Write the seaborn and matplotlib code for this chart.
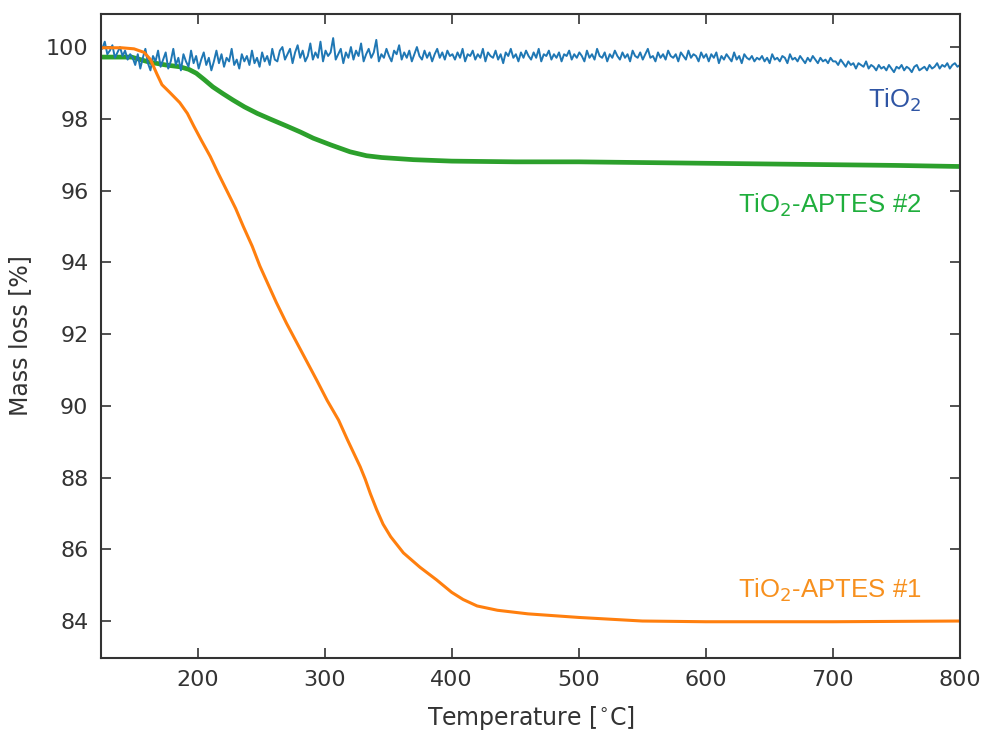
import numpy as np
import pandas as pd
import matplotlib
matplotlib.use("Agg")
import matplotlib.pyplot as plt
import seaborn as sns

# ---------------- data ----------------
tio2_mass = [
    # 125-149
    99.95, 100.15, 99.8, 99.9, 100.05, 99.7, 99.85, 100.0, 99.75, 99.9, 99.65, 99.8, 99.7,
    # 151-261
    99.5, 99.8, 99.4, 99.7, 99.95, 99.55, 99.35, 99.75, 99.6, 99.9,
    99.45, 99.65, 99.85, 99.4, 99.6, 99.95, 99.5, 99.7, 99.35, 99.8,
    99.6, 99.45, 99.9, 99.55, 99.75, 99.4, 99.65, 99.85, 99.5, 99.7,
    99.35, 99.6, 99.9, 99.55, 99.8, 99.45, 99.7, 99.6, 99.95, 99.5,
    99.65, 99.4, 99.8, 99.6, 99.75, 99.5, 99.9, 99.55, 99.7, 99.45,
    99.85, 99.6, 99.75, 99.5, 99.95, 99.65,
    # 263-401
    99.6, 99.9, 100.0, 99.65, 99.8, 99.95, 99.55, 99.85, 100.05, 99.7,
    99.9, 99.6, 99.75, 100.1, 99.65, 99.85, 99.7, 100.15, 99.6, 99.9,
    99.75, 99.85, 100.25, 99.65, 99.8, 99.95, 99.55, 99.85, 99.7, 100.0,
    99.65, 99.9, 99.75, 100.1, 99.6, 99.8, 99.95, 99.7, 99.85, 100.2,
    99.6, 99.8, 99.7, 99.95, 99.75, 99.6, 99.9, 99.8, 100.05, 99.65,
    99.85, 99.7, 99.9, 99.6, 99.8, 100.0, 99.75, 99.65, 99.9, 99.7,
    99.85, 99.6, 99.8, 99.95, 99.7, 99.85, 99.65, 99.9, 99.75, 99.8,
    # 403-601
    99.65, 99.85, 99.7, 99.95, 99.6, 99.8, 99.75, 99.9, 99.65, 99.8,
    99.7, 99.95, 99.6, 99.85, 99.75, 99.7, 99.9, 99.65, 99.8, 99.55,
    99.85, 99.75, 99.95, 99.7, 99.8, 99.6, 99.85, 99.7, 99.9, 99.75,
    99.65, 99.85, 99.7, 99.95, 99.6, 99.8, 99.75, 99.9, 99.65, 99.8,
    99.7, 99.85, 99.6, 99.8, 99.75, 99.9, 99.65, 99.8, 99.7, 99.85,
    99.75, 99.6, 99.9, 99.7, 99.8, 99.65, 99.95, 99.75, 99.7, 99.85,
    99.6, 99.8, 99.7, 99.9, 99.75, 99.65, 99.85, 99.7, 99.8, 99.6,
    99.9, 99.75, 99.7, 99.85, 99.65, 99.8, 99.95, 99.7, 99.75, 99.6,
    99.85, 99.7, 99.8, 99.65, 99.9, 99.75, 99.7, 99.8, 99.6, 99.85,
    99.75, 99.65, 99.9, 99.7, 99.8, 99.75, 99.6, 99.85, 99.7, 99.8,
    # 603-701
    99.6, 99.8, 99.7, 99.85, 99.55, 99.75, 99.65, 99.8, 99.7, 99.6,
    99.85, 99.65, 99.75, 99.55, 99.8, 99.7, 99.65, 99.75, 99.6, 99.7,
    99.65, 99.75, 99.6, 99.7, 99.55, 99.8, 99.65, 99.7, 99.6, 99.75,
    99.7, 99.55, 99.8, 99.65, 99.7, 99.6, 99.75, 99.65, 99.55, 99.7,
    99.6, 99.75, 99.65, 99.55, 99.7, 99.6, 99.65, 99.55, 99.7, 99.6,
    # 703-801
    99.6, 99.5, 99.65, 99.55, 99.45, 99.6, 99.5, 99.55, 99.4, 99.55,
    99.5, 99.45, 99.6, 99.4, 99.5, 99.45, 99.35, 99.5, 99.4, 99.45,
    99.35, 99.5, 99.4, 99.3, 99.45, 99.4, 99.5, 99.35, 99.45, 99.4,
    99.3, 99.45, 99.5, 99.35, 99.4, 99.45, 99.35, 99.5, 99.4, 99.45,
    99.55, 99.4, 99.5, 99.45, 99.55, 99.4, 99.5, 99.55, 99.45, 99.5,
]
tio2_temp = list(np.linspace(125, 800, len(tio2_mass)))

aptes1_temp = [125, 140, 150, 158, 163, 168, 172, 178, 186, 192, 197, 203, 210,
               216, 223, 230, 236, 243, 249, 256, 262, 270, 276, 285, 294, 302,
               311, 318, 324, 328, 332, 336, 341, 346, 352, 362, 375, 388, 400,
               409, 420, 436, 460, 500, 550, 600, 700, 800]
aptes1_mass = [99.98, 99.98, 99.95, 99.85, 99.65, 99.25, 98.95, 98.74, 98.45, 98.15,
               97.8, 97.4, 96.95, 96.5, 96.0, 95.5, 95.0, 94.45, 93.9, 93.35,
               92.88, 92.3, 91.9, 91.3, 90.7, 90.15, 89.6, 89.05, 88.6, 88.3,
               87.95, 87.55, 87.1, 86.7, 86.35, 85.9, 85.5, 85.15, 84.8, 84.6,
               84.42, 84.3, 84.2, 84.1, 84.0, 83.98, 83.98, 84.0]

aptes2_temp = [125, 148, 162, 175, 186, 193, 199, 205, 212, 220, 228, 237, 247,
               258, 270, 281, 291, 305, 320, 333, 345, 370, 400, 450, 500, 550,
               600, 650, 700, 750, 800]
aptes2_mass = [99.72, 99.72, 99.58, 99.5, 99.45, 99.38, 99.27, 99.1, 98.89, 98.7,
               98.52, 98.33, 98.15, 97.98, 97.8, 97.63, 97.46, 97.27, 97.08,
               96.97, 96.92, 96.86, 96.82, 96.8, 96.8, 96.78, 96.76, 96.74,
               96.72, 96.7, 96.67]

x_ticks = [200, 300, 400, 500, 600, 700, 800]
y_ticks = [84, 86, 88, 90, 92, 94, 96, 98, 100]

labels = ["TiO$_2$", "TiO$_2$-APTES #2", "TiO$_2$-APTES #1"]

# ---------------- plot ----------------
sns.set_style("ticks")
plt.rcParams['font.family'] = ['DejaVu Sans']

fig = plt.figure(figsize=(9.86, 7.31), dpi=100)
ax = fig.add_axes([0.1024, 0.0999, 0.8712, 0.8809])

sns.lineplot(x=aptes2_temp, y=aptes2_mass, ax=ax, color="#2ca02c", lw=3.4)
sns.lineplot(x=tio2_temp, y=tio2_mass, ax=ax, color="#1f77b4", lw=1.4)
sns.lineplot(x=aptes1_temp, y=aptes1_mass, ax=ax, color="#ff7f0e", lw=2.2)

ax.set_xlim(124, 800)
ax.set_ylim(82.97, 100.92)
ax.set_xticks(x_ticks)
ax.set_yticks(y_ticks)

ax.tick_params(direction="in", top=True, right=True, length=7, width=1.2,
               labelsize=16, colors="#333333", labelcolor="#333333", pad=9)
for sp in ax.spines.values():
    sp.set_linewidth(1.5)
    sp.set_color("#333333")
    sp.set_visible(True)

ax.set_xlabel("Temperature [$^{\\circ}$C]", fontsize=17, color="#333333", labelpad=10)
ax.set_ylabel("Mass loss [%]", fontsize=17, color="#333333", labelpad=10)

lab_font = ['Liberation Sans', 'DejaVu Sans']
ax.text(770, 98.52, labels[0], color="#2f55a4", fontsize=18.5, ha="right",
        va="center", family=lab_font)
ax.text(770, 95.6, labels[1], color="#1fae3c", fontsize=18.5, ha="right",
        va="center", family=lab_font)
ax.text(770, 84.87, labels[2], color="#f7901e", fontsize=18.5, ha="right",
        va="center", family=lab_font)

fig.savefig("out.png", dpi=100)
